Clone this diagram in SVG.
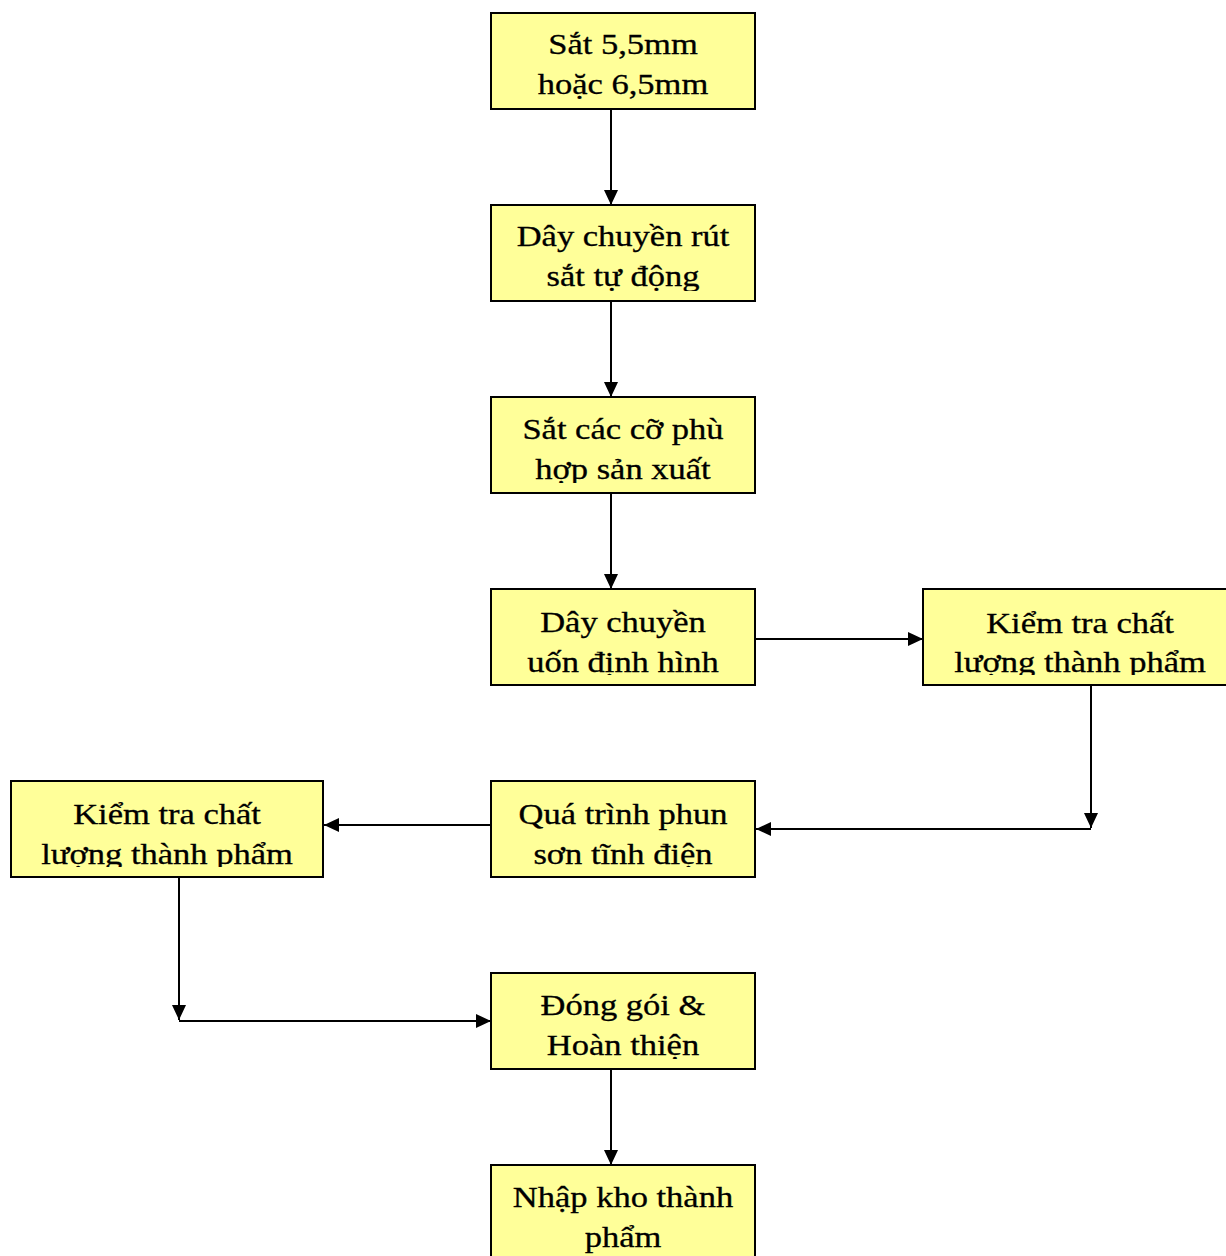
<svg xmlns="http://www.w3.org/2000/svg" width="1226" height="1256" viewBox="0 0 1226 1256">
<style>
.box{fill:#ffff99;stroke:#000;stroke-width:2}
.t{font-family:"Liberation Serif","Times New Roman",serif;font-size:29px;fill:#000;text-anchor:middle;stroke:#000;stroke-width:0.3}
.c{fill:none;stroke:#000;stroke-width:2}
</style>
<defs>
<marker id="ah" markerWidth="15" markerHeight="14" refX="15" refY="7" orient="auto" markerUnits="userSpaceOnUse">
<path d="M0,0 L15,7 L0,14 Z" fill="#000"/>
</marker>
<clipPath id="c1"><rect x="491" y="13" width="264" height="86"/></clipPath>
<clipPath id="c2"><rect x="491" y="205" width="264" height="86"/></clipPath>
<clipPath id="c3"><rect x="491" y="397" width="264" height="86"/></clipPath>
<clipPath id="c4"><rect x="491" y="589" width="264" height="86"/></clipPath>
<clipPath id="c5"><rect x="923" y="589" width="303" height="86"/></clipPath>
<clipPath id="c6"><rect x="491" y="781" width="264" height="86"/></clipPath>
<clipPath id="c7"><rect x="11" y="781" width="312" height="86"/></clipPath>
<clipPath id="c8"><rect x="491" y="973" width="264" height="86"/></clipPath>
<clipPath id="c9"><rect x="491" y="1165" width="264" height="91"/></clipPath>
</defs>
<rect width="1226" height="1256" fill="#fff"/>
<g id="connectors">
<line class="c" x1="611" y1="109" x2="611" y2="205" marker-end="url(#ah)"/>
<line class="c" x1="611" y1="301" x2="611" y2="397" marker-end="url(#ah)"/>
<line class="c" x1="611" y1="493" x2="611" y2="589" marker-end="url(#ah)"/>
<line class="c" x1="755" y1="639" x2="923" y2="639" marker-end="url(#ah)"/>
<line class="c" x1="1091" y1="685" x2="1091" y2="828" marker-end="url(#ah)"/>
<line class="c" x1="1091" y1="829" x2="756" y2="829" marker-end="url(#ah)"/>
<line class="c" x1="492" y1="825" x2="324" y2="825" marker-end="url(#ah)"/>
<line class="c" x1="179" y1="877" x2="179" y2="1020" marker-end="url(#ah)"/>
<line class="c" x1="179" y1="1021" x2="491" y2="1021" marker-end="url(#ah)"/>
<line class="c" x1="611" y1="1069" x2="611" y2="1165" marker-end="url(#ah)"/>
</g>
<g id="n1">
<rect class="box" x="491" y="13" width="264" height="96"/>
<g clip-path="url(#c1)"><text class="t" transform="matrix(1.19 0 0 1 623 54)">Sắt 5,5mm</text><text class="t" transform="matrix(1.19 0 0 1 623 94)">hoặc 6,5mm</text></g>
</g>
<g id="n2">
<rect class="box" x="491" y="205" width="264" height="96"/>
<g clip-path="url(#c2)"><text class="t" transform="matrix(1.19 0 0 1 623 246)">Dây chuyền rút</text><text class="t" transform="matrix(1.19 0 0 1 623 286)">sắt tự động</text></g>
</g>
<g id="n3">
<rect class="box" x="491" y="397" width="264" height="96"/>
<g clip-path="url(#c3)"><text class="t" transform="matrix(1.19 0 0 1 623 439)">Sắt các cỡ phù</text><text class="t" transform="matrix(1.19 0 0 1 623 479)">hợp sản xuất</text></g>
</g>
<g id="n4">
<rect class="box" x="491" y="589" width="264" height="96"/>
<g clip-path="url(#c4)"><text class="t" transform="matrix(1.19 0 0 1 623 632)">Dây chuyền</text><text class="t" transform="matrix(1.19 0 0 1 623 672)">uốn định hình</text></g>
</g>
<g id="n5">
<rect class="box" x="923" y="589" width="304" height="96"/>
<g clip-path="url(#c5)"><text class="t" transform="matrix(1.19 0 0 1 1080 633)">Kiểm tra chất</text><text class="t" transform="matrix(1.19 0 0 1 1080 672)">lượng thành phẩm</text></g>
</g>
<g id="n6">
<rect class="box" x="491" y="781" width="264" height="96"/>
<g clip-path="url(#c6)"><text class="t" transform="matrix(1.19 0 0 1 623 824)">Quá trình phun</text><text class="t" transform="matrix(1.19 0 0 1 623 864)">sơn tĩnh điện</text></g>
</g>
<g id="n7">
<rect class="box" x="11" y="781" width="312" height="96"/>
<g clip-path="url(#c7)"><text class="t" transform="matrix(1.19 0 0 1 167 824)">Kiểm tra chất</text><text class="t" transform="matrix(1.19 0 0 1 167 864)">lượng thành phẩm</text></g>
</g>
<g id="n8">
<rect class="box" x="491" y="973" width="264" height="96"/>
<g clip-path="url(#c8)"><text class="t" transform="matrix(1.19 0 0 1 623 1015)">Đóng gói &amp;</text><text class="t" transform="matrix(1.19 0 0 1 623 1055)">Hoàn thiện</text></g>
</g>
<g id="n9">
<rect class="box" x="491" y="1165" width="264" height="96"/>
<g clip-path="url(#c9)"><text class="t" transform="matrix(1.19 0 0 1 623 1207)">Nhập kho thành</text><text class="t" transform="matrix(1.19 0 0 1 623 1247)">phẩm</text></g>
</g>
</svg>
